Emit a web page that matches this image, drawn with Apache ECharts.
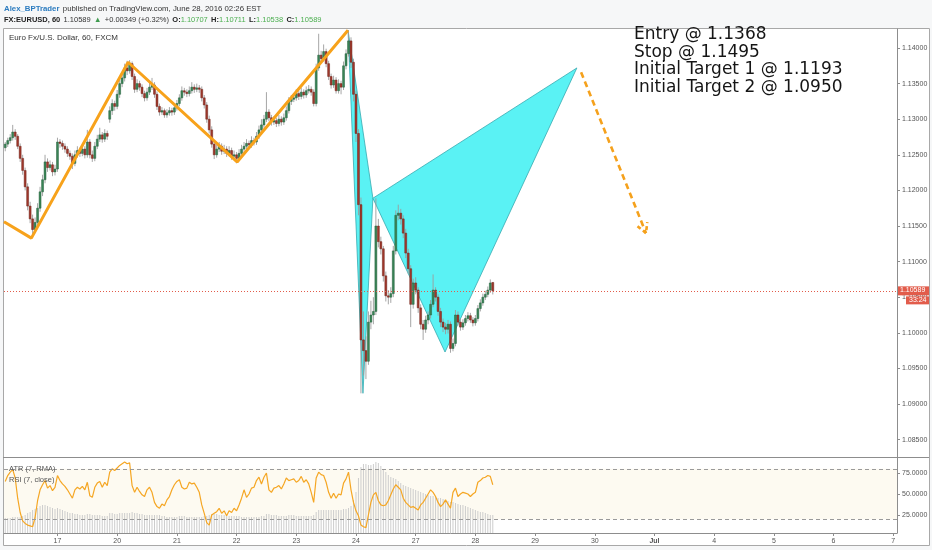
<!DOCTYPE html>
<html><head><meta charset="utf-8">
<script src="https://cdn.jsdelivr.net/npm/echarts@6/dist/echarts.min.js"></script>
<style>html,body{margin:0;padding:0;background:#f6f7f8}#c{width:932px;height:550px}</style>
</head><body><div id="c"></div>
<script>
// ---- categories / ticks ----
const dayLabels = ['16','17','20','21','22','23','24','27','28','29','30','Jul','4','5','6','7'];
const barsPerDay = [21,24,24,24,24,24,24,24,24,24,24,24,24,24,24,2];
const priceTicks = [1.085,1.09,1.095,1.10,1.105,1.11,1.115,1.12,1.125,1.13,1.135,1.14];
const rsiTicks = [25,50,75];
const rsiLevels = [80,20];
// ---- hourly candles [open, high, low, close] ----
const ohlc = [
[1.1260,1.1268,1.1255,1.1265],[1.1265,1.1274,1.1261,1.1270],[1.1270,1.1279,1.1266,1.1274],[1.1274,1.1292,1.1270,1.1282],
[1.1282,1.1286,1.1271,1.1276],[1.1276,1.1279,1.1258,1.1262],[1.1262,1.1266,1.1240,1.1245],[1.1245,1.1250,1.1222,1.1228],
[1.1228,1.1232,1.1200,1.1205],[1.1205,1.1210,1.1172,1.1178],[1.1178,1.1184,1.1154,1.1160],[1.1160,1.1166,1.1136,1.1145],
[1.1145,1.1162,1.1140,1.1155],[1.1155,1.1182,1.1150,1.1175],[1.1175,1.1205,1.1170,1.1198],[1.1198,1.1222,1.1192,1.1215],
[1.1215,1.1250,1.1210,1.1240],[1.1240,1.1245,1.1226,1.1232],[1.1232,1.1242,1.1228,1.1236],[1.1236,1.1240,1.1220,1.1226],
[1.1226,1.1236,1.1221,1.1230],[1.1230,1.1274,1.1226,1.1268],[1.1268,1.1272,1.1260,1.1266],[1.1266,1.1270,1.1257,1.1262],
[1.1262,1.1266,1.1253,1.1258],[1.1258,1.1262,1.1247,1.1252],[1.1252,1.1256,1.1243,1.1248],[1.1248,1.1252,1.1230,1.1238],
[1.1238,1.1256,1.1234,1.1250],[1.1250,1.1262,1.1246,1.1256],[1.1256,1.1260,1.1247,1.1252],[1.1252,1.1264,1.1248,1.1258],
[1.1258,1.1262,1.1245,1.1250],[1.1250,1.1285,1.1246,1.1268],[1.1268,1.1272,1.1245,1.1250],[1.1250,1.1256,1.1240,1.1245],
[1.1245,1.1268,1.1241,1.1262],[1.1262,1.1278,1.1258,1.1272],[1.1272,1.1288,1.1268,1.1278],[1.1278,1.1282,1.1267,1.1272],
[1.1272,1.1286,1.1268,1.1280],[1.1280,1.1284,1.1271,1.1276],[1.1300,1.1318,1.1295,1.1312],[1.1312,1.1328,1.1306,1.1322],
[1.1322,1.1326,1.1312,1.1318],[1.1318,1.1341,1.1314,1.1335],[1.1335,1.1356,1.1330,1.1350],[1.1350,1.1364,1.1345,1.1358],
[1.1358,1.1378,1.1353,1.1372],[1.1372,1.1382,1.1362,1.1368],[1.1368,1.1383,1.1364,1.1378],[1.1378,1.1381,1.1355,1.1360],
[1.1360,1.1364,1.1337,1.1342],[1.1342,1.1356,1.1338,1.1350],[1.1350,1.1354,1.1340,1.1345],[1.1345,1.1349,1.1331,1.1336],
[1.1336,1.1340,1.1325,1.1330],[1.1330,1.1344,1.1326,1.1338],[1.1338,1.1351,1.1334,1.1345],[1.1345,1.1358,1.1341,1.1348],
[1.1348,1.1352,1.1330,1.1335],[1.1335,1.1339,1.1313,1.1318],[1.1318,1.1322,1.1305,1.1310],[1.1310,1.1317,1.1306,1.1312],
[1.1312,1.1315,1.1302,1.1306],[1.1306,1.1314,1.1302,1.1309],[1.1309,1.1317,1.1305,1.1312],[1.1312,1.1316,1.1305,1.1310],
[1.1310,1.1321,1.1306,1.1316],[1.1316,1.1327,1.1312,1.1322],[1.1322,1.1335,1.1318,1.1330],[1.1330,1.1346,1.1326,1.1340],
[1.1340,1.1344,1.1333,1.1338],[1.1338,1.1342,1.1331,1.1336],[1.1336,1.1346,1.1332,1.1340],[1.1340,1.1352,1.1336,1.1345],
[1.1345,1.1349,1.1337,1.1342],[1.1342,1.1350,1.1338,1.1344],[1.1344,1.1348,1.1337,1.1342],[1.1342,1.1346,1.1325,1.1330],
[1.1330,1.1334,1.1315,1.1320],[1.1320,1.1324,1.1295,1.1300],[1.1300,1.1305,1.1280,1.1285],[1.1285,1.1290,1.1260,1.1265],
[1.1265,1.1270,1.1244,1.1250],[1.1250,1.1264,1.1246,1.1258],[1.1258,1.1268,1.1254,1.1262],[1.1262,1.1266,1.1250,1.1255],
[1.1255,1.1264,1.1251,1.1258],[1.1258,1.1262,1.1247,1.1252],[1.1252,1.1262,1.1248,1.1256],[1.1256,1.1260,1.1243,1.1248],
[1.1248,1.1256,1.1244,1.1250],[1.1250,1.1254,1.1238,1.1245],[1.1245,1.1258,1.1241,1.1252],[1.1252,1.1264,1.1248,1.1258],
[1.1258,1.1268,1.1254,1.1262],[1.1262,1.1272,1.1258,1.1266],[1.1266,1.1270,1.1259,1.1264],[1.1264,1.1276,1.1260,1.1270],
[1.1270,1.1274,1.1263,1.1268],[1.1268,1.1282,1.1264,1.1276],[1.1276,1.1291,1.1272,1.1285],[1.1285,1.1300,1.1281,1.1292],
[1.1292,1.1306,1.1288,1.1300],[1.1300,1.1338,1.1296,1.1310],[1.1310,1.1314,1.1297,1.1302],[1.1302,1.1306,1.1291,1.1296],
[1.1296,1.1304,1.1292,1.1298],[1.1298,1.1302,1.1289,1.1294],[1.1294,1.1306,1.1290,1.1300],[1.1300,1.1304,1.1291,1.1296],
[1.1296,1.1308,1.1292,1.1302],[1.1302,1.1318,1.1298,1.1312],[1.1312,1.1331,1.1308,1.1325],[1.1325,1.1334,1.1320,1.1328],
[1.1328,1.1336,1.1324,1.1330],[1.1330,1.1342,1.1326,1.1336],[1.1336,1.1340,1.1327,1.1332],[1.1332,1.1344,1.1328,1.1338],
[1.1338,1.1342,1.1329,1.1334],[1.1334,1.1346,1.1330,1.1340],[1.1340,1.1348,1.1336,1.1342],[1.1342,1.1346,1.1333,1.1338],
[1.1338,1.1342,1.1318,1.1322],[1.1322,1.1378,1.1318,1.1372],[1.1372,1.1420,1.1368,1.1390],[1.1390,1.1396,1.1379,1.1385],
[1.1385,1.1405,1.1381,1.1395],[1.1395,1.1399,1.1373,1.1378],[1.1378,1.1382,1.1355,1.1360],[1.1360,1.1364,1.1343,1.1348],
[1.1348,1.1361,1.1344,1.1355],[1.1355,1.1359,1.1336,1.1340],[1.1340,1.1356,1.1336,1.1350],[1.1350,1.1354,1.1335,1.1345],
[1.1345,1.1381,1.1341,1.1375],[1.1375,1.1398,1.1370,1.1392],[1.1392,1.1425,1.1388,1.1410],[1.1410,1.1415,1.1372,1.1380],
[1.1380,1.1385,1.1325,1.1335],[1.1335,1.1340,1.1268,1.1280],[1.1280,1.1286,1.1165,1.1180],[1.1180,1.1190,1.0915,1.0990],
[1.0990,1.1030,1.0940,1.0975],[1.0975,1.0995,1.0935,1.0960],[1.0960,1.1030,1.0955,1.1015],[1.1015,1.1045,1.1005,1.1025],
[1.1025,1.1050,1.1012,1.1030],[1.1030,1.1189,1.1025,1.1150],[1.1150,1.1160,1.1120,1.1128],[1.1128,1.1135,1.1110,1.1118],
[1.1118,1.1122,1.1072,1.1080],[1.1080,1.1086,1.1044,1.1052],[1.1052,1.1060,1.1040,1.1050],[1.1050,1.1064,1.1042,1.1055],
[1.1055,1.1122,1.1050,1.1115],[1.1115,1.1172,1.1110,1.1165],[1.1165,1.1180,1.1158,1.1168],[1.1168,1.1174,1.1152,1.1160],
[1.1160,1.1165,1.1133,1.1140],[1.1140,1.1146,1.1105,1.1112],[1.1112,1.1118,1.1083,1.1090],[1.1090,1.1095,1.1008,1.1040],
[1.1040,1.1076,1.1034,1.1070],[1.1070,1.1078,1.1054,1.1060],[1.1060,1.1064,1.1028,1.1035],[1.1035,1.1040,1.1005,1.1012],
[1.1012,1.1018,1.0990,1.1005],[1.1005,1.1024,1.1000,1.1018],[1.1018,1.1030,1.1012,1.1025],[1.1025,1.1046,1.1020,1.1040],
[1.1040,1.1082,1.1036,1.1060],[1.1060,1.1064,1.1044,1.1050],[1.1050,1.1054,1.1024,1.1030],[1.1030,1.1035,1.1008,1.1015],
[1.1015,1.1020,1.1001,1.1008],[1.1008,1.1014,1.0998,1.1005],[1.1005,1.1018,1.0999,1.1012],[1.1012,1.1016,1.0972,1.0978],
[1.0978,1.0992,1.0974,1.0985],[1.0985,1.1032,1.0981,1.1025],[1.1025,1.1030,1.1010,1.1015],[1.1015,1.1020,1.1003,1.1008],
[1.1008,1.1019,1.1004,1.1014],[1.1014,1.1025,1.1010,1.1020],[1.1020,1.1029,1.1016,1.1024],[1.1024,1.1028,1.1014,1.1018],
[1.1018,1.1022,1.1009,1.1014],[1.1014,1.1025,1.1010,1.1020],[1.1020,1.1039,1.1016,1.1034],[1.1034,1.1047,1.1030,1.1042],
[1.1042,1.1055,1.1038,1.1050],[1.1050,1.1059,1.1046,1.1054],[1.1054,1.1065,1.1050,1.1060],[1.1060,1.1075,1.1056,1.1070],
[1.10707,1.10711,1.10538,1.10589]
];
// ---- indicators ----
const rsi = [
65,72,76,79,69,45,28, 18,15,13,12,11,22,42, 55,61,66,57,60,54,58, 72,66,62,59,55,50,45,
55,58,56,59,55,64,48, 46,58,63,65,58,64,60, 76,80,78,81,84,86,88, 86,87,60,52,58,53,49,
47,55,58,52,40,35,33, 38,36,43,47,55,61,65, 67,58,56,57,64,62,63, 58,52,37,27,16,13,25,
27,29,33,27,30,24,30, 28,33,30,37,45,55,46, 50,57,58,66,70,62,70, 75,55,52,57,58,60,56,
62,69,66,67,68,64,66, 71,64,67,62,52,40,69, 76,73,72,64,52,45,51, 45,50,49,63,68,76,55,
40,30,24,13,11,10,25, 40,49,52,42,37,36,37, 42,49,56,61,58,55,45, 40,37,34,35,33,31,37,
40,45,50,55,52,47,40, 35,38,43,38,33,52,57, 47,50,52,51,50,47,50, 52,64,66,69,70,72,71,61
];
const atrPips = [
15,15,15,16,16,16,16, 17,18,20,21,23,24,25, 27,28,28,27,26,25,24, 25,24,23,22,21,20,20,
19,19,18,18,18,19,19, 18,18,18,18,17,17,17, 20,20,19,19,20,20,20, 20,20,21,20,20,19,19,
18,18,18,18,18,18,18, 17,17,16,16,16,16,16, 17,17,17,16,16,16,16, 16,16,16,17,17,18,19,
19,19,18,18,18,17,17, 17,17,17,17,16,16,16, 16,16,16,16,16,17,17, 19,19,18,18,18,17,17,
17,17,18,18,18,17,17, 17,17,17,17,17,18,21, 23,23,23,23,23,23,23, 23,23,23,24,24,25,27,
33,41,55,66,69,69,68, 68,69,71,70,67,64,61, 58,56,55,54,52,50,48, 47,46,45,44,43,42,41,
40,39,38,37,37,36,35, 35,34,33,32,31,31,30, 29,28,28,27,26,25,24, 23,22,21,21,20,19,18,18
];
// ---- drawings (bar index, price) ----
const swingPoints = [[-0.5,1.1156],[10.5,1.1133],[49.4,1.1380],[93.2,1.1240],[137.8,1.1425]];
const xabcd = [[137.8,1.1425],[143.8,1.0915],[147.8,1.1189],[176.8,1.0973],[229.8,1.1372]];
const arrowPath = [[231.5,1.1366],[257.6,1.1140]];
const notes = ['Entry @ 1.1368','Stop @ 1.1495','Initial Target 1 @ 1.1193','Initial Target 2 @ 1.0950'];
const lastPrice = 1.10589, lastLabel = '1.10589', countdown = '33:24';

const N = barsPerDay.reduce((a,b)=>a+b,0);
const dayStarts = []; let acc = 0;
barsPerDay.forEach(n=>{dayStarts.push(acc); acc+=n;});
const labelAt = {}; dayStarts.forEach((s,k)=>{ if(k>0) labelAt[s]=dayLabels[k]; });
const tickIdx = dayStarts.slice(1);
const xMin = -0.5, xMax = N - 0.5;
const pMin = 1.082556, pMax = 1.142669;
const FONT = 'Liberation Sans';

function renderCandle(params, api){
  const i=api.value(0), o=api.value(1), h=api.value(2), l=api.value(3), c=api.value(4);
  const po=api.coord([i,o]), pc=api.coord([i,c]), ph=api.coord([i,h]), pl=api.coord([i,l]);
  const w = Math.max(1.2, api.size([1,0])[0]*0.78);
  const up = c>=o;
  const top=Math.min(po[1],pc[1]), ht=Math.max(1, Math.abs(po[1]-pc[1]));
  return {type:'group', children:[
    {type:'line', shape:{x1:ph[0],y1:ph[1],x2:pl[0],y2:pl[1]}, style:{stroke:'#9c9c9c', lineWidth:0.9}},
    {type:'rect', shape:{x:po[0]-w/2, y:top, width:w, height:ht},
     style:{fill: up?'#3a8657':'#a2382c', stroke: up?'#245f3c':'#6e241b', lineWidth:0.5}}
  ]};
}
function renderPattern(params, api){
  const P = xabcd.map(p=>api.coord(p));
  const st = {fill:'#5af2f4', stroke:'#36a9b0', lineWidth:0.8};
  return {type:'group', children:[
    {type:'polygon', shape:{points:[P[0],P[1],P[2]]}, style:st},
    {type:'polygon', shape:{points:[P[2],P[3],P[4]]}, style:st}
  ]};
}
function renderArrow(params, api){
  const a=api.coord(arrowPath[0]), b=api.coord(arrowPath[1]);
  const ang=Math.atan2(b[1]-a[1], b[0]-a[0]);
  const L=11, s=0.5;
  const l1=[b[0]-L*Math.cos(ang-s), b[1]-L*Math.sin(ang-s)];
  const l2=[b[0]-L*Math.cos(ang+s), b[1]-L*Math.sin(ang+s)];
  return {type:'group', children:[
    {type:'line', shape:{x1:a[0],y1:a[1],x2:b[0],y2:b[1]}, style:{stroke:'#f5a11c', lineWidth:2.6, lineDash:[6,4]}},
    {type:'polyline', shape:{points:[l1,b,l2]}, style:{stroke:'#f5a11c', lineWidth:2.6, lineDash:[4,3], fill:null}}
  ]};
}

const chart = echarts.init(document.getElementById('c'), null, {renderer:'canvas', width:932, height:550});
const axisCol = '#8d8d8d';
chart.setOption({
  animation:false,
  backgroundColor:'transparent',
  grid:[
    {left:4, top:29, width:893, height:428},
    {left:4, top:457, width:893, height:76}
  ],
  xAxis:[
    {type:'value', gridIndex:0, min:xMin, max:xMax, splitLine:{show:false},
     axisLine:{show:true, onZero:false, lineStyle:{color:axisCol}}, axisTick:{show:false}, axisLabel:{show:false}},
    {type:'value', gridIndex:1, min:xMin, max:xMax, splitLine:{show:false},
     axisLine:{show:true, onZero:false, lineStyle:{color:axisCol}},
     axisTick:{show:true, customValues:tickIdx, length:3, lineStyle:{color:axisCol}},
     axisLabel:{customValues:tickIdx, formatter:v=>labelAt[v]==='Jul'?'{b|Jul}':(labelAt[v]||''), fontSize:7, color:'#555', margin:5, fontFamily:FONT,
       rich:{b:{fontWeight:'bold', fontSize:7, color:'#555', fontFamily:FONT}}}}
  ],
  yAxis:[
    {type:'value', gridIndex:0, position:'right', min:pMin, max:pMax, splitLine:{show:false},
     axisLine:{show:true, onZero:false, lineStyle:{color:axisCol}},
     axisTick:{show:true, customValues:priceTicks, length:3, lineStyle:{color:axisCol}},
     axisLabel:{customValues:priceTicks, formatter:v=>v.toFixed(5), fontSize:7, color:'#555', margin:5, fontFamily:FONT}},
    {type:'value', gridIndex:1, position:'right', min:3.57, max:94.05, splitLine:{show:false},
     axisLine:{show:true, onZero:false, lineStyle:{color:axisCol}},
     axisTick:{show:true, customValues:rsiTicks, length:3, lineStyle:{color:axisCol}},
     axisLabel:{customValues:rsiTicks, formatter:v=>v.toFixed(4), fontSize:7, color:'#555', margin:5, fontFamily:FONT}},
    {type:'value', gridIndex:1, min:0, max:76, show:false, axisLine:{onZero:false}}
  ],
  series:[
    {type:'custom', name:'pattern', xAxisIndex:0, yAxisIndex:0, z:1, silent:true,
     data:[[xabcd[0][0], xabcd[0][1]]], renderItem:renderPattern},
    {type:'custom', name:'EURUSD', xAxisIndex:0, yAxisIndex:0, z:2,
     encode:{x:0, y:[1,2,3,4]},
     data:ohlc.map((r,i)=>[i,r[0],r[1],r[2],r[3]]), renderItem:renderCandle},
    {type:'line', name:'swing', xAxisIndex:0, yAxisIndex:0, z:3, data:swingPoints, symbol:'none',
     lineStyle:{color:'#f7a21b', width:3},
     markLine:{symbol:'none', silent:true, precision:5, label:{show:false},
       lineStyle:{type:[1,2], color:'#e25c4b', width:1}, data:[{yAxis:lastPrice}]}},
    {type:'custom', name:'arrow', xAxisIndex:0, yAxisIndex:0, z:3, silent:true,
     data:[[arrowPath[0][0], arrowPath[0][1]]], renderItem:renderArrow},
    {type:'bar', name:'ATR', xAxisIndex:1, yAxisIndex:2, z:1, barWidth:1,
     itemStyle:{color:'#cdcdcd'}, data:atrPips.map((v,i)=>[i,v])},
    {type:'line', name:'RSI', xAxisIndex:1, yAxisIndex:1, z:3, symbol:'none',
     lineStyle:{color:'#f5a623', width:1.2}, data:rsi.map((v,i)=>[i,v]),
     markLine:{symbol:'none', silent:true, precision:4, label:{show:false},
       lineStyle:{type:[4,3], color:'#9a9a9a', width:1}, data:rsiLevels.map(v=>({yAxis:v}))},
     markArea:{silent:true, itemStyle:{color:'rgba(250,240,215,0.35)'}, data:[[{yAxis:rsiLevels[0]},{yAxis:rsiLevels[1]}]]}}
  ]
});

const yLast = chart.convertToPixel({yAxisIndex:0}, lastPrice);
chart.setOption({graphic:[
  {type:'rect', z:-100, silent:true, shape:{x:3.5, y:28.5, width:926, height:517}, style:{fill:'#ffffff', stroke:'#a8a8a8', lineWidth:1}},
  {type:'line', z:50, silent:true, shape:{x1:3, y1:457.5, x2:929, y2:457.5}, style:{stroke:'#8d8d8d', lineWidth:1}},
  {type:'text', z:50, left:4, top:3, style:{text:'{u|Alex_BPTrader} {p|published on TradingView.com, June 28, 2016 02:26 EST}',
    rich:{u:{fill:'#2b7bbf', fontWeight:'bold', fontSize:7.8, fontFamily:FONT}, p:{fill:'#333', fontSize:7.8, fontFamily:FONT}}}},
  {type:'text', z:50, left:4, top:14, style:{text:'{b|FX:EURUSD, 60} {n|1.10589} {g|▲} {n|+0.00349 (+0.32%)} {b|O:}{v|1.10707} {b|H:}{v|1.10711} {b|L:}{v|1.10538} {b|C:}{v|1.10589}',
    rich:{b:{fill:'#222', fontWeight:'bold', fontSize:7.5, fontFamily:FONT}, n:{fill:'#333', fontSize:7.5, fontFamily:FONT},
          g:{fill:'#3f9b4f', fontSize:7.5, fontFamily:FONT}, v:{fill:'#4caf50', fontSize:7.5, fontFamily:FONT}}}},
  {type:'text', z:50, left:9, top:34, style:{text:'Euro Fx/U.S. Dollar, 60, FXCM', fill:'#333', fontSize:8, fontFamily:FONT}},
  {type:'text', z:50, left:9, top:465, style:{text:'ATR (7, RMA)', fill:'#555', fontSize:7.5, fontFamily:FONT}},
  {type:'text', z:50, left:9, top:476, style:{text:'RSI (7, close)', fill:'#555', fontSize:7.5, fontFamily:FONT}},
  {type:'text', z:50, left:634, top:26, style:{text:notes.join('\n'), fill:'#151515', fontSize:17, lineHeight:17.6, fontFamily:'DejaVu Sans'}},
  {type:'rect', z:60, shape:{x:898, y:yLast-4.5, width:31, height:9}, style:{fill:'#e25c4b'}},
  {type:'text', z:61, left:900, top:yLast-4, style:{text:lastLabel, fill:'#fff', fontSize:7, fontFamily:FONT}},
  {type:'rect', z:60, shape:{x:906, y:yLast+5.5, width:23, height:8}, style:{fill:'#e25c4b'}},
  {type:'text', z:61, left:909, top:yLast+6, style:{text:countdown, fill:'#fff', fontSize:7, fontFamily:FONT}}
]});
</script>
</body></html>
